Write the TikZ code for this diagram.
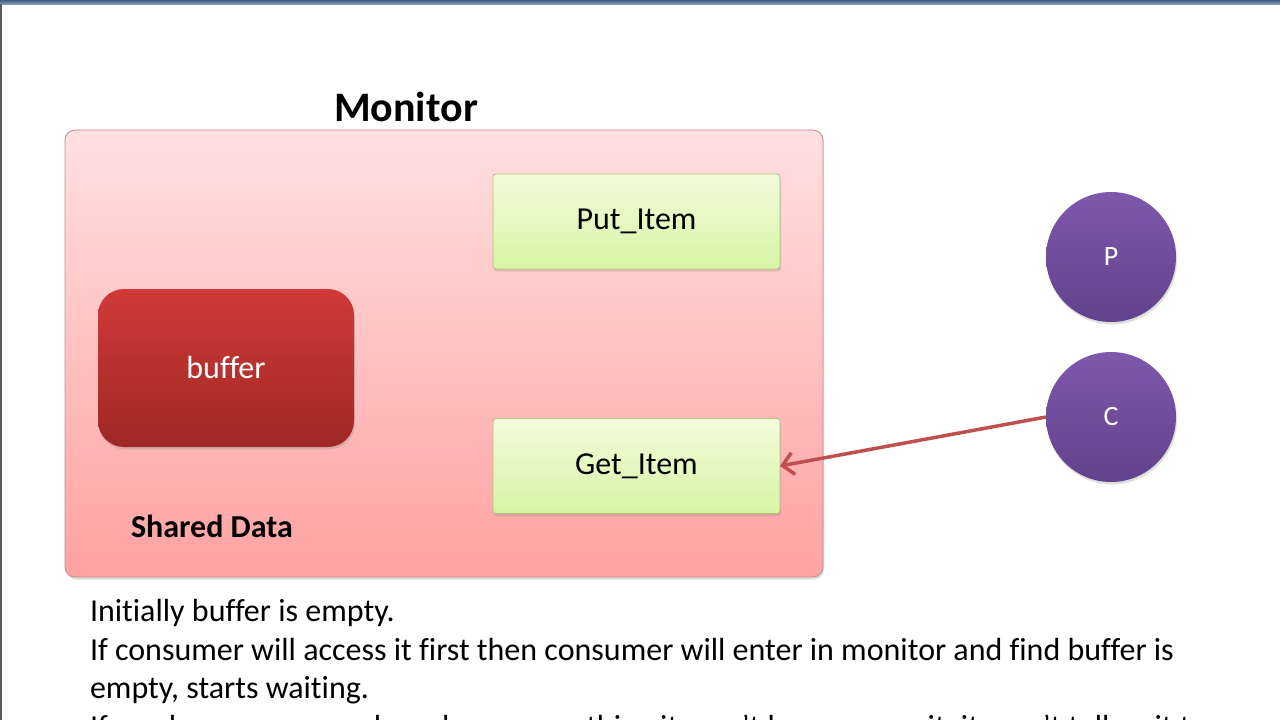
\documentclass[tikz,border=0pt]{standalone}
\usepackage{fontspec}
\setmainfont[Ligatures=NoCommon]{Carlito}
\usetikzlibrary{shadows,arrows.meta}
\definecolor{montop}{RGB}{255,224,224}
\definecolor{monbot}{RGB}{255,162,162}
\definecolor{monborder}{RGB}{196,140,140}
\definecolor{gtop}{RGB}{242,251,220}
\definecolor{gbot}{RGB}{214,245,164}
\definecolor{gborder}{RGB}{176,196,118}
\definecolor{btop}{RGB}{208,58,55}
\definecolor{bbot}{RGB}{158,40,38}
\definecolor{ptop}{RGB}{126,88,172}
\definecolor{pbot}{RGB}{98,66,140}
\definecolor{arrowc}{RGB}{192,80,77}
\definecolor{bandtop}{RGB}{60,92,130}
\definecolor{bandbot}{RGB}{130,158,192}
\begin{document}
\begin{tikzpicture}[x=1pt,y=-1pt,
  every node/.style={inner sep=0pt,outer sep=0pt},
  softshadow/.style={drop shadow={opacity=0.25,shadow xshift=1pt,shadow yshift=-2.5pt}},
  monbox/.style={draw=monborder,line width=0.8pt,rounded corners=10pt,top color=montop,bottom color=monbot,minimum width=758pt,minimum height=447pt,softshadow},
  greenbox/.style={draw=gborder,line width=0.8pt,rounded corners=3pt,top color=gtop,bottom color=gbot,minimum width=287pt,minimum height=95pt,font=\fontsize{32}{38}\selectfont,softshadow},
  redbox/.style={rounded corners=26pt,top color=btop,bottom color=bbot,minimum width=256pt,minimum height=158pt,text=white,font=\fontsize{32}{38}\selectfont,softshadow},
  proc/.style={circle,top color=ptop,bottom color=pbot,minimum size=130pt,text=white,font=\fontsize{28}{33}\selectfont,softshadow},
  bodytext/.style={anchor=base west,font=\fontsize{32}{38}\selectfont},
  link/.style={draw=arrowc,line width=3.5pt,-{Straight Barb[length=11pt,width=22pt]}}]
\useasboundingbox (0,0) rectangle (1280,720);
\fill[white] (0,0) rectangle (1280,720);
% top band and left edge
\shade[top color=bandtop,bottom color=bandbot] (0,0) rectangle (1280,4);
\draw[gray!70!black,line width=1.5pt] (0.75,4) -- (0.75,720);
% title
\node[anchor=base,font=\bfseries\fontsize{42}{50}\selectfont] (title) at (406,121) {Monitor};
% monitor box
\node[monbox] (mon) at (444,353.5) {};
\node[greenbox] (put) at (636.5,221.5) {Put\_Item};
\node[greenbox] (get) at (636.5,466) {Get\_Item};
\node[redbox] (buf) at (226,368) {buffer};
\node[anchor=base,font=\bfseries\fontsize{32}{38}\selectfont] (shared) at (212,537) {Shared Data};
% processes
\node[proc] (P) at (1111,257) {P};
\node[proc] (C) at (1111,417) {C};
\draw[link] (C.west) -- (get.east);
% text
\node[bodytext] (l1) at (90,621) {Initially buffer is empty.};
\node[bodytext] (l2) at (90,660) {If consumer will access it first then consumer will enter in monitor and find buffer is};
\node[bodytext] (l3) at (90,698) {empty, starts waiting.};
\node[bodytext] (l4) at (90,737) {If producer comes and produces something it won't have any wait, it won't tell wait to};
\end{tikzpicture}
\end{document}
